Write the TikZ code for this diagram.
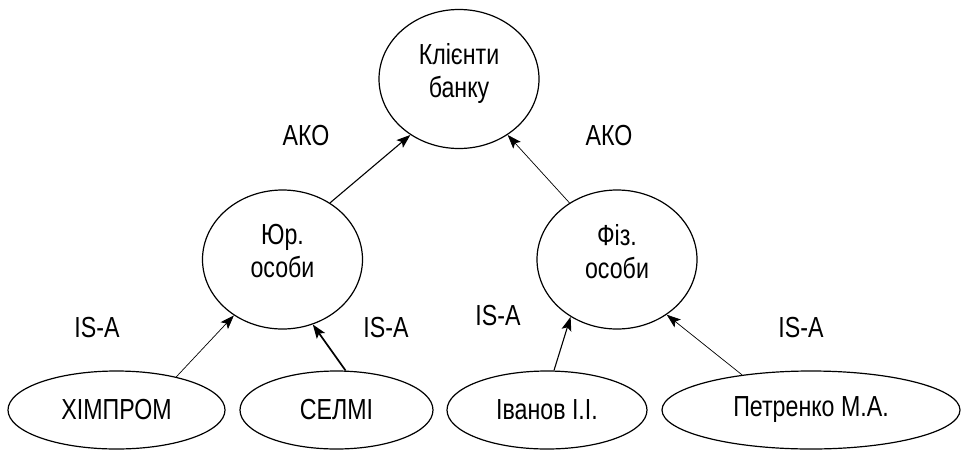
\documentclass[tikz,border=0pt]{standalone}
\usepackage{fontspec}
\setmainfont{Liberation Sans}[FakeStretch=0.80]
\usetikzlibrary{arrows.meta,shapes.geometric}
\tikzset{
  concept/.style = {draw, ellipse, line width=1.2pt, inner sep=0pt, align=center},
  klass/.style   = {concept, minimum width=160pt, minimum height=139pt, text depth=17pt},
  inst/.style    = {concept, minimum height=78pt},
  rel/.style     = {-{Stealth[length=14pt,width=10pt,inset=3pt]}, line width=0.7pt},
  relm/.style    = {rel, line width=1.1pt},
  relb/.style    = {rel, line width=1.7pt},
  lbl/.style     = {inner sep=0pt},
}
\begin{document}
\begin{tikzpicture}[x=1pt,y=-1pt,font=\fontsize{29}{33}\selectfont]
 \useasboundingbox (0,0) rectangle (965,450);
 % classes
 \node[klass] (client) at (459,79) {Клієнти\\банку};
 \node[klass] (legal) at (282.5,259.5) {Юр.\\особи};
 \node[klass] (person) at (617,259.5) {Фіз.\\особи};
 % instances
 \node[inst, minimum width=217pt] (chem) at (116.5,410) {ХІМПРОМ};
 \node[inst, minimum width=193pt] (selmi) at (336.5,410) {СЕЛМІ};
 \node[inst, minimum width=200pt] (ivanov) at (547,410) {Іванов І.І.};
 \node[inst, minimum width=298pt] (petr) at (811,410) {Петренко М.А.};
 % links
 \draw[relm] (legal.50) -- (client.229);
 \draw[rel] (person.130) -- (client.311);
 \draw[rel] (chem.29) -- (legal.229);
 \draw[relb] (selmi.77) -- (legal.295);
 \draw[relm] (ivanov.80) -- (person.231);
 \draw[rel] (petr.153) -- (person.312);
 % labels
 \node[lbl] (ako1) at (306,136) {АКО};
 \node[lbl] (ako2) at (609,136) {АКО};
 \node[lbl] (isa1) at (97,328) {IS-A};
 \node[lbl] (isa2) at (386,328) {IS-A};
 \node[lbl] (isa3) at (498,316) {IS-A};
 \node[lbl] (isa4) at (801,328) {IS-A};
\end{tikzpicture}
\end{document}
